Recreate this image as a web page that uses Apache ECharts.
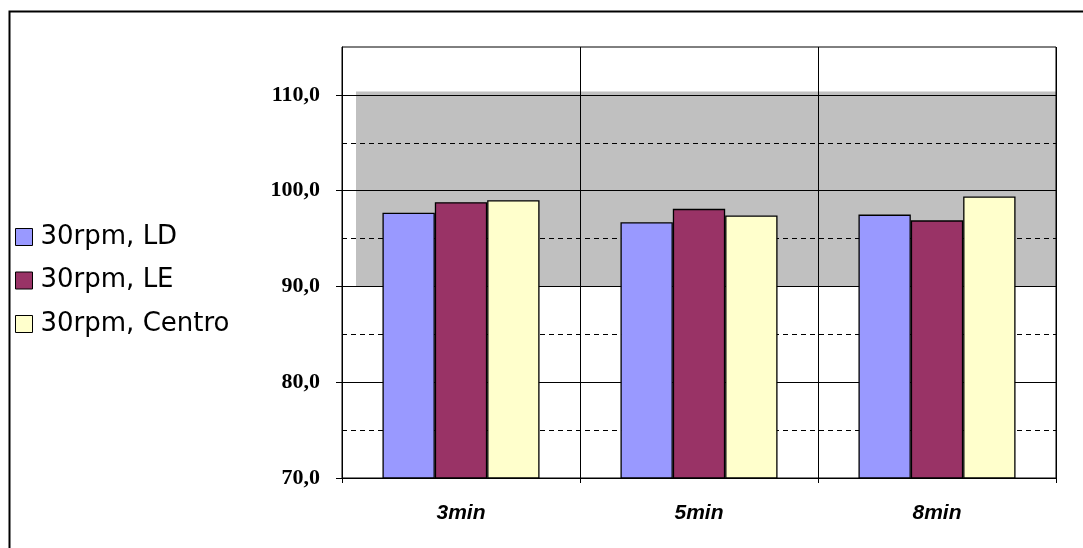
<!DOCTYPE html>
<html>
<head>
<meta charset="utf-8">
<script src="https://cdn.jsdelivr.net/npm/echarts@6/dist/echarts.min.js"></script>
<style>
  html, body { margin: 0; padding: 0; background: #ffffff; }
  #chart { width: 1083px; height: 548px; }
</style>
</head>
<body>
<div id="chart"></div>
<script>
// Time points on the x axis
const categories = ['3min', '5min', '8min'];

// Series names and values
const seriesNames = ['30rpm, LD', '30rpm, LE', '30rpm, Centro'];
const valuesLD = [97.7, 96.7, 97.5];
const valuesLE = [98.8, 98.1, 96.9];
const valuesCentro = [99.0, 97.4, 99.4];

// Y axis range, labelled ticks and the shaded target band
const yMin = 70;
const yMax = 115;
const yLabelTicks = [70, 80, 90, 100, 110];
const bandRange = [90, 110.35];

const colors = ['#9999FF', '#993366', '#FFFFCC'];

const chart = echarts.init(document.getElementById('chart'), null, { renderer: 'canvas' });

const fmt = v => v.toFixed(1).replace('.', ',');

const barSeries = [valuesLD, valuesLE, valuesCentro].map((vals, i) => ({
  name: seriesNames[i],
  type: 'bar',
  data: vals,
  barGap: '0%',
  barCategoryGap: '34%',
  z: 3,
  itemStyle: { color: colors[i], borderColor: '#000000', borderWidth: 1.3 }
}));

chart.setOption({
  animation: false,
  backgroundColor: '#ffffff',
  graphic: [{
    type: 'rect',
    left: 7, top: 9,
    shape: { width: 1200, height: 700 },
    style: { fill: 'none', stroke: '#000000', lineWidth: 2 },
    silent: true
  }],
  legend: {
    orient: 'vertical',
    left: 15,
    top: 224,
    padding: 0,
    itemWidth: 17,
    itemHeight: 17,
    itemGap: 17.5,
    icon: 'rect',
    textStyle: {
      fontFamily: 'DejaVu Sans', fontSize: 26, lineHeight: 26,
      color: '#000000', padding: [0, 0, 0, 3]
    },
    itemStyle: { borderColor: '#000000', borderWidth: 1 },
    data: seriesNames
  },
  grid: {
    left: 342, right: 27, top: 47, bottom: 70,
    show: true,
    borderColor: '#000000',
    borderWidth: 1,
    backgroundColor: 'transparent',
    containLabel: false
  },
  xAxis: [{
    type: 'category',
    data: categories,
    boundaryGap: true,
    axisLine: { show: true, lineStyle: { color: '#000000', width: 1 } },
    axisTick: { show: true, length: 5, lineStyle: { color: '#000000' } },
    splitLine: { show: true, lineStyle: { color: '#000000', width: 1 } },
    axisLabel: {
      margin: 25,
      fontFamily: 'Liberation Sans',
      fontWeight: 'bold',
      fontStyle: 'italic',
      fontSize: 21,
      color: '#000000'
    }
  }],
  yAxis: [{
    type: 'value',
    min: yMin,
    max: yMax,
    interval: 10,
    axisLine: { show: true, lineStyle: { color: '#000000', width: 1 } },
    axisTick: { show: true, length: 6, inside: false, customValues: yLabelTicks, lineStyle: { color: '#000000' } },
    splitLine: { show: true, lineStyle: { color: '#000000', width: 1 } },
    axisLabel: {
      customValues: yLabelTicks,
      formatter: v => fmt(v),
      margin: 22,
      fontFamily: 'Liberation Serif',
      fontWeight: 'bold',
      fontSize: 22,
      color: '#000000'
    }
  }, {
    // dashed half-step gridlines
    type: 'value',
    min: yMin,
    max: yMax,
    interval: 5,
    position: 'left',
    axisLine: { show: false },
    axisTick: { show: false },
    axisLabel: { show: false },
    splitLine: { show: true, showMaxLine: false, lineStyle: { color: '#000000', width: 1, type: [5, 4] } },
    z: -0.5
  }],
  series: [
    {
      // shaded target band behind the gridlines
      type: 'line',
      data: [null, null, null],
      symbol: 'none',
      silent: true,
      z: -2,
      markArea: {
        silent: true,
        z: -2,
        itemStyle: { color: '#C0C0C0' },
        data: [[{ x: 356, yAxis: bandRange[1] }, { x: 1056, yAxis: bandRange[0] }]]
      }
    },
    ...barSeries
  ]
});
</script>
</body>
</html>
